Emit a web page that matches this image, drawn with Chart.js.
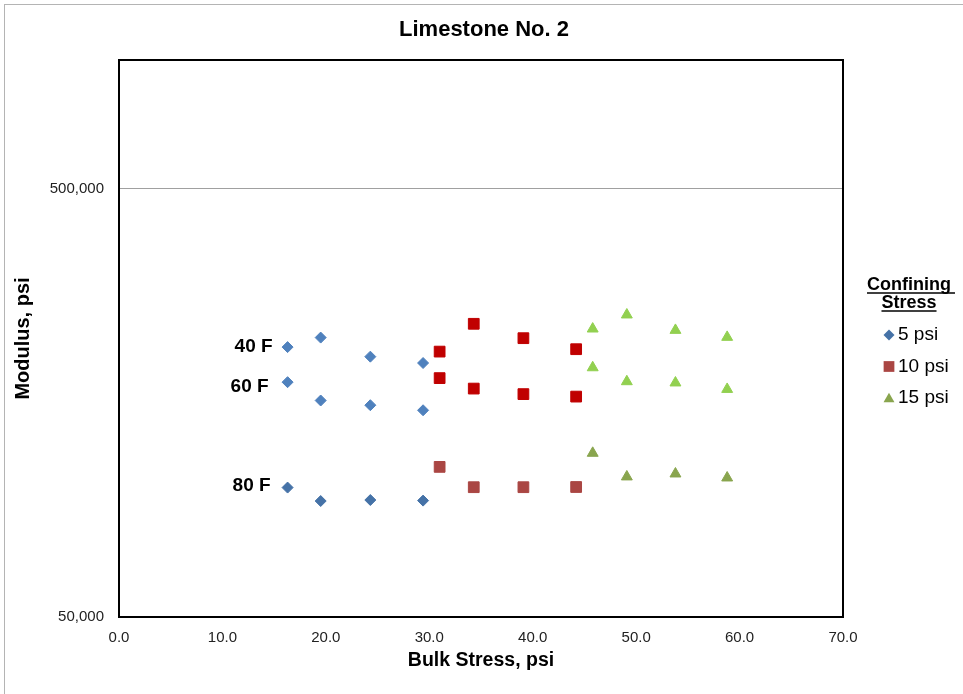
<!DOCTYPE html>
<html>
<head>
<meta charset="utf-8">
<title>Limestone No. 2</title>
<script src="https://cdn.jsdelivr.net/npm/chart.js@4.4.0/dist/chart.umd.min.js"></script>
<style>
  html, body { margin: 0; padding: 0; background: #fff; overflow: hidden; }
  #wrap { position: relative; width: 963px; height: 694px; }
  #frame {
    position: absolute; left: 4px; top: 4px; width: 2000px; height: 2000px;
    border-left: 1px solid #b4b4b4; border-top: 1px solid #b4b4b4;
    pointer-events: none;
  }
</style>
</head>
<body>
<div id="wrap">
  <canvas id="chart" width="963" height="694"></canvas>
  <div id="frame"></div>
</div>
<script>
const FONT = "Arial, 'Liberation Sans', sans-serif";

// bulk stress (psi) for each confining stress
const bulk5psi = [16.3, 19.5, 24.3, 29.4];
const bulk10psi = [31.0, 34.3, 39.1, 44.2];
const bulk15psi = [45.8, 49.1, 53.8, 58.8];

// resilient modulus (psi)
const mod40F_5psi = [213500, 224700, 202800, 196000];
const mod40F_10psi = [208400, 242000, 224000, 211100];
const mod40F_15psi = [235500, 254000, 233800, 225200];

const mod60F_5psi = [176800, 160200, 156200, 152000];
const mod60F_10psi = [180700, 170800, 165800, 163600];
const mod60F_15psi = [191200, 177400, 176200, 170200];

const mod80F_5psi = [100300, 93300, 93800, 93500];
const mod80F_10psi = [112100, 100500, 100500, 100600];
const mod80F_15psi = [120700, 106300, 108000, 105700];

const chartTitle = "Limestone No. 2";
const tempLabels = ["40 F", "60 F", "80 F"];
const stressLabels = ["5 psi", "10 psi", "15 psi"];
const xTicks = [0, 10, 20, 30, 40, 50, 60, 70];
const yTicks = [50000, 500000];

const toPoints = (xs, ys) => xs.map((x, i) => ({ x, y: ys[i] }));

const shapes = ["rectRot", "rect", "triangle"];
const radii = [5.5, 7.6, 6.3];
const lightColors = ["#4F81BD", "#C00000", "#92D050"];
const darkColors = ["#4572A7", "#AA4643", "#89A54E"];

const bulk = [bulk5psi, bulk10psi, bulk15psi];
const byTemp = [
  [mod40F_5psi, mod40F_10psi, mod40F_15psi],
  [mod60F_5psi, mod60F_10psi, mod60F_15psi],
  [mod80F_5psi, mod80F_10psi, mod80F_15psi],
];

const datasets = [];
byTemp.forEach((group, t) => {
  group.forEach((ys, s) => {
    const color = t === 2 ? darkColors[s] : lightColors[s];
    datasets.push({
      label: tempLabels[t] + " " + stressLabels[s],
      data: toPoints(bulk[s], ys),
      pointStyle: shapes[s],
      pointRadius: radii[s],
      pointBackgroundColor: color,
      pointBorderColor: color,
      pointBorderWidth: 1,
      showLine: false,
    });
  });
});

function drawShape(ctx, style, x, y, r) {
  ctx.beginPath();
  if (style === "rectRot") {
    ctx.moveTo(x, y - r);
    ctx.lineTo(x + r, y);
    ctx.lineTo(x, y + r);
    ctx.lineTo(x - r, y);
  } else if (style === "rect") {
    const h = r * Math.SQRT1_2;
    ctx.rect(x - h, y - h, 2 * h, 2 * h);
  } else {
    ctx.moveTo(x, y - r);
    ctx.lineTo(x + r * 0.866, y + r / 2);
    ctx.lineTo(x - r * 0.866, y + r / 2);
  }
  ctx.closePath();
  ctx.fill();
}

const framePlugin = {
  id: "plotFrame",
  beforeDatasetsDraw(chart) {
    const { ctx, chartArea: a } = chart;
    ctx.save();
    ctx.strokeStyle = "#000";
    ctx.lineWidth = 2;
    ctx.strokeRect(a.left, a.top, a.right - a.left, a.bottom - a.top);
    ctx.restore();
  },
  afterDatasetsDraw(chart) {
    const ctx = chart.ctx;
    const nudge = [[-15, 0], [-19, 5], [-17, -2]];
    ctx.save();
    ctx.font = "bold 19px " + FONT;
    ctx.fillStyle = "#000";
    ctx.textAlign = "right";
    ctx.textBaseline = "middle";
    tempLabels.forEach((txt, t) => {
      const p = chart.getDatasetMeta(t * 3).data[0];
      ctx.fillText(txt, p.x + nudge[t][0], p.y + nudge[t][1]);
    });
    ctx.restore();
  },
  afterDraw(chart) {
    const ctx = chart.ctx;
    ctx.save();
    ctx.fillStyle = "#000";
    ctx.strokeStyle = "#000";
    ctx.textBaseline = "middle";
    ctx.textAlign = "center";

    ctx.font = "bold 22px " + FONT;
    ctx.fillText(chartTitle, 484, 30);

    ctx.font = "bold 18px " + FONT;
    [["Confining", 285], ["Stress", 303]].forEach(([txt, y]) => {
      ctx.fillText(txt, 909, y);
      const w = ctx.measureText(txt).width;
      ctx.lineWidth = 1.5;
      ctx.beginPath();
      ctx.moveTo(909 - w / 2, y + 8);
      ctx.lineTo(909 + w / 2 + (txt === "Confining" ? 4 : 0), y + 8);
      ctx.stroke();
    });
    ctx.textAlign = "left";
    ctx.font = "19px " + FONT;
    stressLabels.forEach((txt, s) => {
      const y = 335 + s * 31.5;
      ctx.fillStyle = darkColors[s];
      drawShape(ctx, shapes[s], 889, y + (s === 2 ? 1 : 0), radii[s]);
      ctx.fillStyle = "#000";
      ctx.fillText(txt, 898, y);
    });
    ctx.restore();
  },
};

new Chart(document.getElementById("chart"), {
  type: "scatter",
  data: { datasets },
  options: {
    responsive: false,
    animation: false,
    layout: { padding: { left: 0, right: 120, top: 60, bottom: 0 } },
    plugins: {
      legend: { display: false },
      tooltip: { enabled: false },
      title: { display: false },
    },
    scales: {
      x: {
        type: "linear",
        min: 0,
        max: 70,
        afterBuildTicks: (scale) => {
          scale.ticks = xTicks.map((v) => ({ value: v }));
        },
        afterFit: (scale) => {
          scale.height = 77;
        },
        grid: { display: false },
        border: { display: false },
        ticks: {
          padding: 4,
          color: "#222",
          font: { family: FONT, size: 15 },
          callback: (v) => Number(v).toFixed(1),
        },
        title: {
          display: true,
          text: "Bulk Stress, psi",
          color: "#000",
          font: { family: FONT, size: 19.5, weight: "bold" },
          padding: { top: 0, bottom: 22 },
        },
      },
      y: {
        type: "logarithmic",
        min: 50000,
        max: 1000000,
        afterBuildTicks: (scale) => {
          scale.ticks = yTicks.map((v) => ({ value: v }));
        },
        afterFit: (scale) => {
          scale.width = 119;
        },
        grid: { color: "#a0a0a0", lineWidth: 1, drawTicks: false },
        border: { display: false },
        ticks: {
          padding: 15,
          color: "#222",
          font: { family: FONT, size: 15 },
          callback: (v) => Number(v).toLocaleString("en-US"),
        },
        title: {
          display: true,
          text: "Modulus, psi",
          color: "#000",
          font: { family: FONT, size: 20, weight: "bold" },
          padding: { top: 11, bottom: 0 },
        },
      },
    },
  },
  plugins: [framePlugin],
});
</script>
</body>
</html>
